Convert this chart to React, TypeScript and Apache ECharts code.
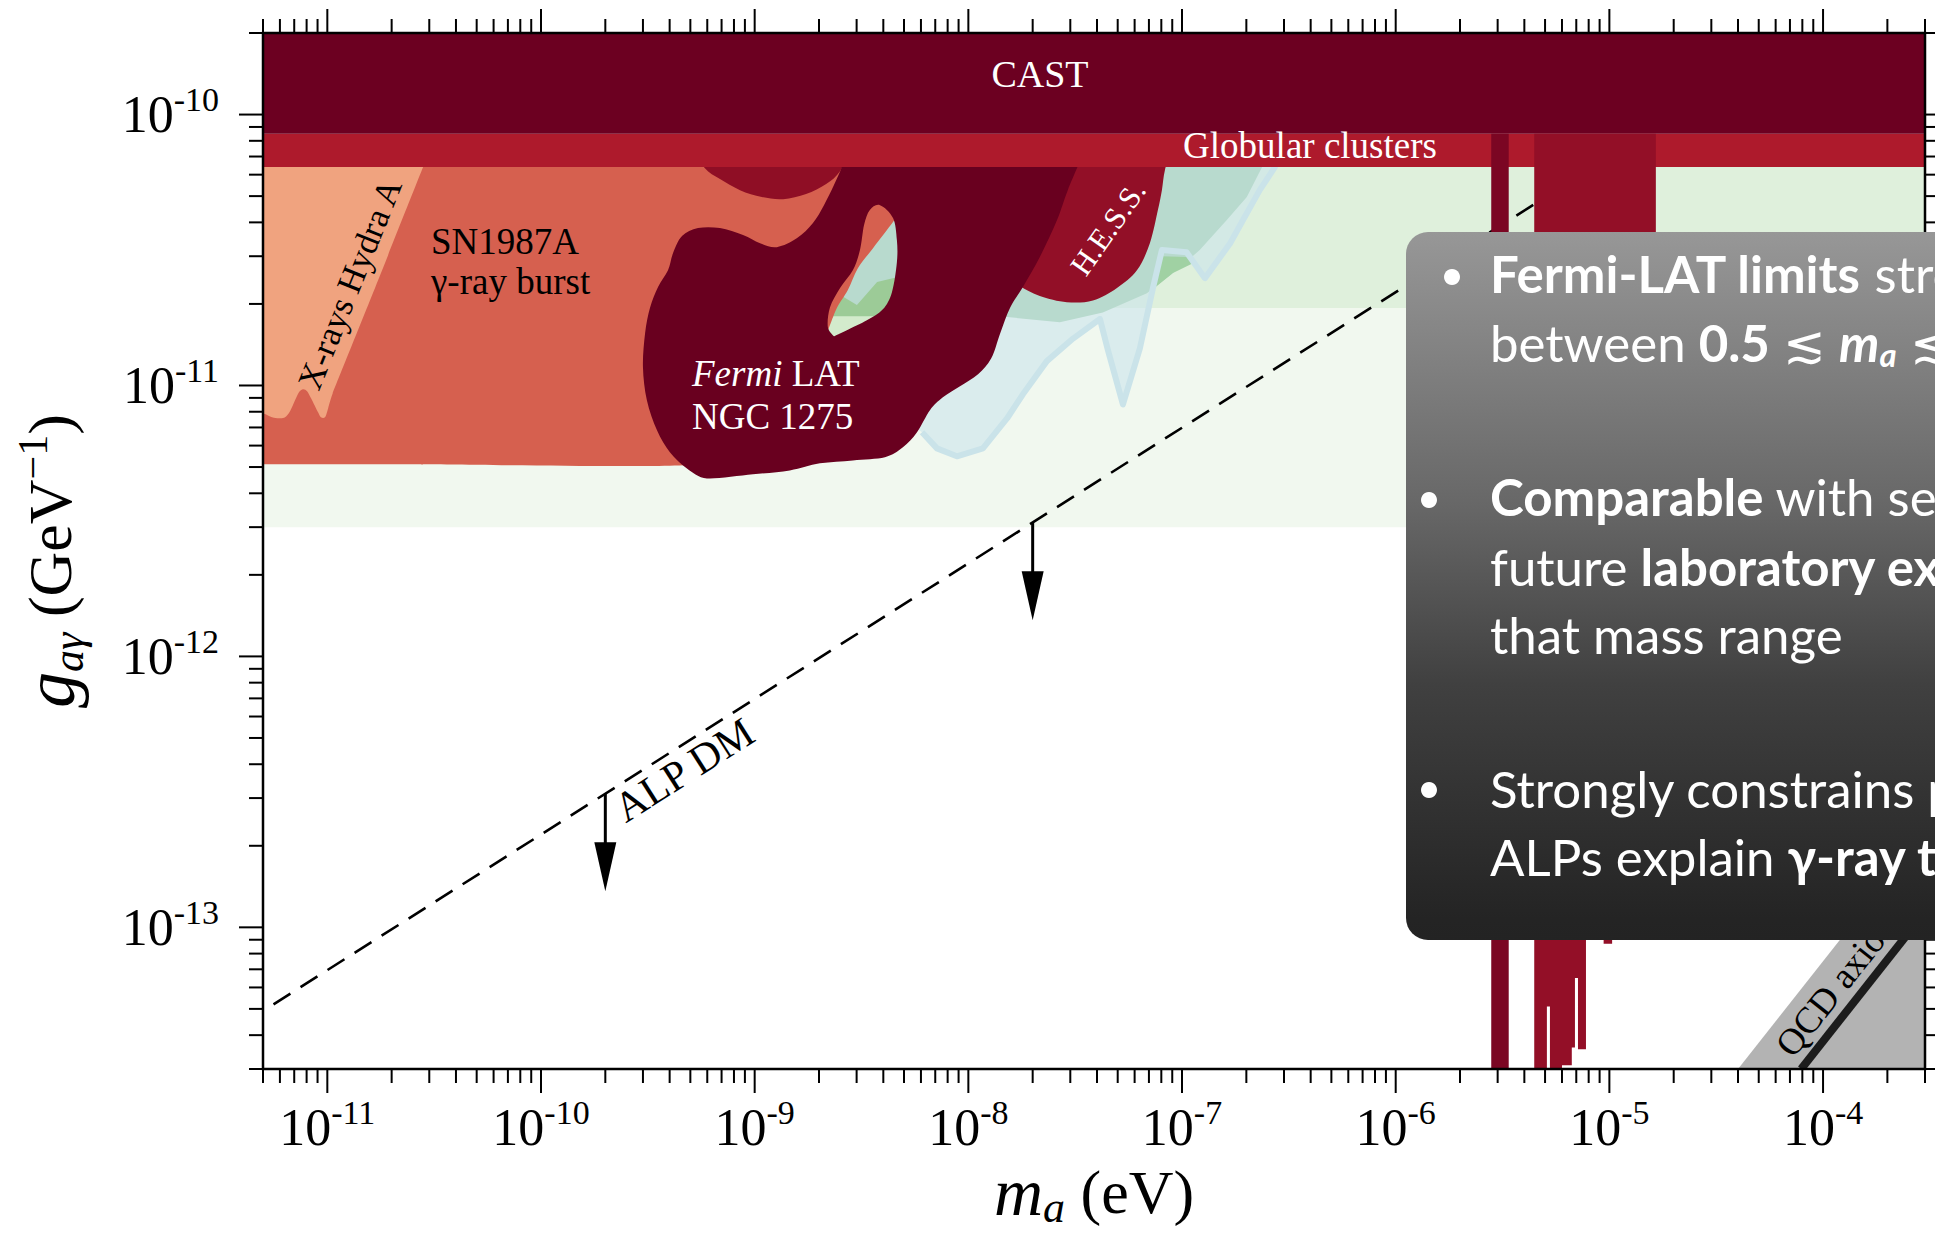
import React, { useEffect, useRef } from 'react';
import * as echarts from 'echarts';

const CANVAS_W = 1935;
const CANVAS_H = 1234;
const SERIF = '"Liberation Serif", "Times New Roman", Times, serif';
const SANS = 'Lato, "Open Sans", "Noto Sans", sans-serif';

// axis ranges (m_a in eV, g in GeV^-1)
const X_MIN = 5e-12;
const X_MAX = 3e-4;
const Y_MIN = 3e-14;
const Y_MAX = 2e-10;
const xLabelExponents = [-11, -10, -9, -8, -7, -6, -5, -4];
const yLabelExponents = [-13, -12, -11, -10];

// horizontal bands: [mMin, mMax, gMin, gMax]
const castBand = [5e-12, 3e-4, 8.5e-11, 2e-10];
const globularBand = [5e-12, 3e-4, 6.4e-11, 8.5e-11];
const projectionBandLow = [5e-12, 3e-4, 3e-12, 7e-11];
const projectionBandHigh = [5e-12, 3e-4, 1.93e-11, 7e-11];
const holeBackPale = [2.1e-9, 4.8e-9, 1.45e-11, 4.8e-11];
const holeBackGreen = [2.1e-9, 4.8e-9, 1.8e-11, 4.8e-11];

// region outlines: [m, g]
const hydraA = [
  [3.9e-12, 7.4e-11], [3.02e-11, 7.4e-11], [1.73e-11, 2.45e-11], [1.06e-11, 9.36e-12],
  [1.0e-11, 8.03e-12], [9.75e-12, 7.63e-12], [9.34e-12, 7.63e-12], [9.05e-12, 7.96e-12],
  [8.39e-12, 8.97e-12], [8.04e-12, 9.52e-12], [7.7e-12, 9.68e-12], [7.37e-12, 9.44e-12],
  [7.06e-12, 8.82e-12], [6.69e-12, 8.03e-12], [6.34e-12, 7.63e-12], [5.94e-12, 7.57e-12],
  [5.51e-12, 7.63e-12], [4.95e-12, 7.9e-12], [3.9e-12, 7.96e-12],
];
const sn1987a = [
  [3.9e-12, 7.4e-11], [1.89e-10, 7.4e-11], [1.07e-8, 7.4e-11], [5.05e-9, 4.63e-11],
  [4.44e-9, 4.01e-11], [3.58e-9, 3.21e-11], [3.04e-9, 2.71e-11], [2.73e-9, 2.25e-11],
  [2.4e-9, 1.9e-11], [1.92e-9, 1.24e-11], [1.31e-9, 7.44e-12], [5.55e-10, 5.12e-12],
  [2.19e-11, 5.12e-12], [3.9e-12, 5.12e-12],
];
const sn1987aCore = [
  [5.26e-10, 7.4e-11], [5.85e-10, 6.34e-11], [6.88e-10, 5.78e-11], [8.54e-10, 5.26e-11],
  [1.08e-9, 4.96e-11], [1.36e-9, 4.87e-11], [1.74e-9, 5.09e-11], [2.16e-9, 5.54e-11],
  [2.51e-9, 6.18e-11], [2.79e-9, 7.4e-11],
];
const hess = [
  [2.41e-8, 7.4e-11], [8.97e-8, 7.4e-11], [8.32e-8, 6.24e-11], [8.05e-8, 5.26e-11],
  [7.71e-8, 4.44e-11], [7.07e-8, 3.35e-11], [6.15e-8, 2.66e-11], [4.96e-8, 2.29e-11],
  [3.83e-8, 2.06e-11], [2.89e-8, 2.03e-11], [2.16e-8, 2.14e-11], [1.74e-8, 2.33e-11],
  [1.48e-8, 2.55e-11], [1.94e-8, 4.83e-11],
];
const fermiNgc1275 = [
  [2.73e-9, 7.4e-11], [9.14e-9, 7.4e-11], [3.51e-8, 7.4e-11], [2.92e-8, 5.26e-11],
  [2.6e-8, 4.08e-11], [2.16e-8, 2.98e-11], [1.8e-8, 2.31e-11], [1.57e-8, 1.94e-11],
  [1.41e-8, 1.56e-11], [1.28e-8, 1.26e-11], [1.11e-8, 1.1e-11], [9.14e-9, 9.93e-12],
  [7.6e-9, 9.04e-12], [6.61e-9, 8.1e-12], [5.75e-9, 6.72e-12], [4.94e-9, 5.91e-12],
  [4.07e-9, 5.43e-12], [2.88e-9, 5.29e-12], [2.02e-9, 5.16e-12], [1.46e-9, 4.86e-12],
  [9.82e-10, 4.7e-12], [5.98e-10, 4.54e-12], [4.82e-10, 4.94e-12], [4.01e-10, 5.67e-12],
  [3.49e-10, 6.83e-12], [3.13e-10, 8.82e-12], [3.0e-10, 1.17e-11], [3.07e-10, 1.56e-11],
  [3.24e-10, 1.94e-11], [3.53e-10, 2.31e-11], [3.93e-10, 2.66e-11], [4.15e-10, 3.08e-11],
  [4.57e-10, 3.56e-11], [5.43e-10, 3.81e-11], [6.88e-10, 3.81e-11], [8.82e-10, 3.59e-11],
  [1.06e-9, 3.35e-11], [1.27e-9, 3.24e-11], [1.58e-9, 3.5e-11], [1.87e-9, 3.97e-11],
  [2.11e-9, 4.63e-11], [2.35e-9, 5.49e-11], [2.56e-9, 6.4e-11],
];
const fermiHole = [
  [3.86e-9, 4.63e-11], [4.44e-9, 4.15e-11], [4.63e-9, 3.44e-11], [4.63e-9, 2.85e-11],
  [4.39e-9, 2.21e-11], [3.98e-9, 1.91e-11], [3.35e-9, 1.74e-11], [2.7e-9, 1.6e-11],
  [2.35e-9, 1.52e-11], [2.2e-9, 1.64e-11], [2.25e-9, 1.94e-11], [2.51e-9, 2.29e-11],
  [2.88e-9, 2.66e-11], [3.11e-9, 3.16e-11], [3.25e-9, 3.91e-11], [3.46e-9, 4.44e-11],
];
const blueRegion = [
  [1.26e-8, 7.4e-11], [2.93e-7, 7.4e-11], [2.72e-7, 6.4e-11], [2.31e-7, 5.26e-11],
  [1.93e-7, 4.08e-11], [1.68e-7, 3.35e-11], [1.28e-7, 2.49e-11], [1.05e-7, 3.1e-11],
  [8.05e-8, 3.16e-11], [7.31e-8, 2.29e-11], [6.35e-8, 1.37e-11], [5.29e-8, 8.52e-12],
  [4.5e-8, 1.35e-11], [4.13e-8, 1.76e-11], [3.09e-8, 1.49e-11], [2.33e-8, 1.23e-11],
  [1.8e-8, 9.28e-12], [1.52e-8, 7.57e-12], [1.17e-8, 5.86e-12], [8.84e-9, 5.48e-12],
  [7.13e-9, 5.86e-12], [6.07e-9, 6.72e-12], [5.05e-9, 7.44e-12], [4.79e-9, 2.06e-11],
];
const tealRegion = [
  [2.02e-9, 7.4e-11], [2.58e-7, 7.4e-11], [2.37e-7, 6.4e-11], [2.01e-7, 4.96e-11],
  [1.62e-7, 4.08e-11], [1.21e-7, 3.16e-11], [9.07e-8, 2.6e-11], [6.85e-8, 2.19e-11],
  [4.26e-8, 1.86e-11], [2.68e-8, 1.71e-11], [1.52e-8, 1.79e-11], [9.14e-9, 1.98e-11],
  [4.63e-9, 2.51e-11], [3.74e-9, 2.41e-11], [3.01e-9, 1.98e-11], [2.56e-9, 2.14e-11],
  [2.02e-9, 2.25e-11],
];
const greenPocket = [
  [8.05e-8, 3.0e-11], [1.05e-7, 2.98e-11], [1.15e-7, 2.85e-11], [9.07e-8, 2.6e-11],
  [7.23e-8, 2.25e-11], [7.55e-8, 2.66e-11],
];

// haloscope-like vertical exclusions: [mMin, mMax, gBottom] (top at CAST band edge)
const narrowBar = [[2.8e-6, 3.38e-6, 3e-14]];
const wideBars = [
  [4.45e-6, 5.1e-6, 3e-14], [5.1e-6, 5.27e-6, 5.1e-14], [5.27e-6, 6.0e-6, 3e-14],
  [6.0e-6, 6.67e-6, 3.1e-14], [6.67e-6, 6.9e-6, 3.6e-14], [6.9e-6, 7.13e-6, 6.5e-14],
  [7.13e-6, 7.77e-6, 3.55e-14], [7.77e-6, 9.4e-6, 9.5e-14], [9.4e-6, 1.03e-5, 8.7e-14],
  [1.03e-5, 1.65e-5, 9.5e-14],
];
const barTop = 8.5e-11;

// ALP dark matter line and arrows [m, gFrom, gTo]
const alpDmLine = [[5.6e-12, 5.2e-14], [1e-5, 7.0e-11]];
const alpArrows = [[2e-10, 3.11e-13, 1.36e-13], [2e-8, 3.11e-12, 1.36e-12]];

// QCD axion band
const qcdBandEdge = [[4e-5, 3e-14], [3e-4, 2.25e-13]];
const qcdLine = [[7.9e-5, 3e-14], [3e-4, 1.14e-13]];

// ---------- helpers ----------
function signedArea(p: number[][]) {
  let a = 0;
  for (let i = 0; i < p.length; i++) {
    const q = p[(i + 1) % p.length];
    a += p[i][0] * q[1] - q[0] * p[i][1];
  }
  return a / 2;
}

function smoothClosed(p: number[][]): string {
  const n = p.length;
  const t = p.map((pt, i) => {
    const a = p[(i - 1 + n) % n];
    const b = p[(i + 1) % n];
    const d1x = pt[0] - a[0], d1y = pt[1] - a[1];
    const d2x = b[0] - pt[0], d2y = b[1] - pt[1];
    const l1 = Math.hypot(d1x, d1y) || 1e-9;
    const l2 = Math.hypot(d2x, d2y) || 1e-9;
    const cos = (d1x * d2x + d1y * d2y) / (l1 * l2);
    if (cos < 0.26) return [0, 0];
    let tx = (b[0] - a[0]) / 6;
    let ty = (b[1] - a[1]) / 6;
    const tl = Math.hypot(tx, ty);
    const lim = 0.4 * Math.min(l1, l2);
    if (tl > lim && tl > 0) {
      tx *= lim / tl;
      ty *= lim / tl;
    }
    return [tx, ty];
  });
  const f = (v: number) => v.toFixed(2);
  let d = `M${f(p[0][0])},${f(p[0][1])}`;
  for (let i = 0; i < n; i++) {
    const j = (i + 1) % n;
    d += `C${f(p[i][0] + t[i][0])},${f(p[i][1] + t[i][1])},${f(p[j][0] - t[j][0])},${f(p[j][1] - t[j][1])},${f(p[j][0])},${f(p[j][1])}`;
  }
  return d + 'Z';
}

const regionLayers: any[] = [
  { kind: 'rect', data: projectionBandLow, fill: '#f1f8ef' },
  { kind: 'rect', data: projectionBandHigh, fill: '#dff0dc' },
  { kind: 'rect', data: holeBackPale, fill: '#d3ebcc' },
  { kind: 'rect', data: holeBackGreen, fill: '#9ccb97' },
  { kind: 'poly', data: blueRegion, fill: 'rgba(203,229,235,0.6)' },
  { kind: 'poly', data: tealRegion, fill: '#b8dace' },
  { kind: 'poly', data: greenPocket, fill: '#a0d1a3' },
  { kind: 'outline', data: blueRegion.slice(1, 22), stroke: '#cae3e9', lineWidth: 6 },
  { kind: 'smooth', data: sn1987a, fill: '#d6604f' },
  { kind: 'smooth', data: hydraA, fill: '#f0a37f' },
  { kind: 'smooth', data: sn1987aCore, fill: '#8f0e25' },
  { kind: 'smooth', data: hess, fill: '#920f27' },
  { kind: 'smooth', data: fermiNgc1275, hole: fermiHole, fill: '#69001f' },
  { kind: 'rect', data: globularBand, fill: '#ae1a2c' },
  { kind: 'rect', data: castBand, fill: '#6c0021' },
];

const xTicks: { v: number; major: boolean }[] = [];
for (let e = -12; e <= -4; e++) {
  for (let c = 1; c <= 9; c++) {
    const v = c * Math.pow(10, e);
    if (v >= X_MIN * 0.9999 && v <= X_MAX * 1.0001) xTicks.push({ v, major: c === 1 });
  }
}
const yTicks: { v: number; major: boolean }[] = [];
for (let e = -14; e <= -10; e++) {
  for (let c = 1; c <= 9; c++) {
    const v = c * Math.pow(10, e);
    if (v >= Y_MIN * 0.9999 && v <= Y_MAX * 1.0001) yTicks.push({ v, major: c === 1 });
  }
}

function powerLabel(exps: number[]) {
  return (v: number) => {
    const lv = Math.log10(v);
    const e = Math.round(lv);
    if (Math.abs(lv - e) > 1e-6 || exps.indexOf(e) < 0) return '';
    return `{b|10}{s|${e}}`;
  };
}

const tickLabelRich = {
  b: { fontFamily: SERIF, fontSize: 52, lineHeight: 64, color: '#000' },
  s: { fontFamily: SERIF, fontSize: 34, lineHeight: 34, verticalAlign: 'top', color: '#000' },
};

function txt(x: number, y: number, text: string, o: any) {
  return {
    type: 'text',
    x,
    y,
    rotation: ((o.rot || 0) * Math.PI) / 180,
    z: o.z || 4,
    silent: true,
    style: {
      text,
      fontFamily: o.family || SERIF,
      fontSize: o.size,
      fontStyle: o.italic ? 'italic' : 'normal',
      fontWeight: o.weight || 'normal',
      fill: o.fill || '#000',
      align: o.align || 'left',
      verticalAlign: 'middle',
      rich: o.rich,
    },
  };
}

const boxRich = {
  r: { fontFamily: SANS, fontSize: 51, lineHeight: 56, fontWeight: 400, fill: '#fff', color: '#fff' },
  b: { fontFamily: SANS, fontSize: 51, lineHeight: 56, fontWeight: 700, fill: '#fff', color: '#fff' },
  bi: { fontFamily: SANS, fontSize: 51, lineHeight: 56, fontWeight: 700, fontStyle: 'italic', fill: '#fff', color: '#fff' },
  sub: { fontFamily: SANS, fontSize: 33, lineHeight: 30, fontWeight: 700, fontStyle: 'italic', verticalAlign: 'bottom', fill: '#fff', color: '#fff' },
};

const BOX_X = 1406;
const TXT_X = 1490;
const boxLines = [
  { y: 273, t: '{b|Fermi-LAT limits}{r| strongest}' },
  { y: 342, t: '{r|between }{b|0.5}{r| \u2272 }{bi|m}{sub|a}{r| \u2272 }{b|5 neV}' },
  { y: 496, t: '{b|Comparable}{r| with sensitivity of}' },
  { y: 566, t: '{r|future }{b|laboratory experiments}{r| in}' },
  { y: 634, t: '{r|that mass range}' },
  { y: 788, t: '{r|Strongly constrains possibility that}' },
  { y: 856, t: '{r|ALPs explain }{b|\u03b3-ray transparency}' },
];
const bullets = [[1452, 277], [1429, 500], [1429, 790]];

function buildOption() {
  const graphics: any[] = [
    txt(1040, 74, 'CAST', { size: 38, fill: '#ffffff', align: 'center' }),
    txt(1310, 145, 'Globular clusters', { size: 37, fill: '#ffffff', align: 'center' }),
    txt(431, 241, 'SN1987A', { size: 37, fill: '#000' }),
    txt(431, 281, '\u03b3-ray burst', { size: 37, fill: '#000' }),
    txt(350, 284, 'X-rays Hydra A', { size: 35, fill: '#000', align: 'center', rot: 68 }),
    txt(692, 373, '{i|Fermi}{n| LAT}', {
      size: 37,
      fill: '#ffffff',
      rich: {
        i: { fontFamily: SERIF, fontSize: 37, fontStyle: 'italic', fill: '#fff', color: '#fff' },
        n: { fontFamily: SERIF, fontSize: 37, fill: '#fff', color: '#fff' },
      },
    }),
    txt(692, 416, 'NGC 1275', { size: 37, fill: '#ffffff' }),
    txt(1108, 228, 'H.E.S.S.', { size: 31, fill: '#ffffff', align: 'center', rot: 55 }),
    txt(684, 770, 'ALP DM', { size: 42, fill: '#000', align: 'center', rot: 32.4 }),
    txt(1836, 985, 'QCD axion', { size: 37, fill: '#000', align: 'center', rot: 51.5 }),
    {
      type: 'rect',
      z: 50,
      silent: true,
      shape: { x: BOX_X, y: 232, width: 640, height: 708, r: 22 },
      style: {
        fill: new echarts.graphic.LinearGradient(0, 0, 0, 1, [
          { offset: 0, color: '#979797' },
          { offset: 0.38, color: '#686868' },
          { offset: 0.64, color: '#404040' },
          { offset: 0.97, color: '#242424' },
          { offset: 1, color: '#232323' },
        ]),
      },
    },
  ];
  bullets.forEach(([cx, cy]) =>
    graphics.push({ type: 'circle', z: 51, silent: true, shape: { cx, cy, r: 8 }, style: { fill: '#ffffff' } })
  );
  boxLines.forEach((l) =>
    graphics.push(txt(TXT_X, l.y, l.t, { size: 51, family: SANS, fill: '#ffffff', z: 51, rich: boxRich }))
  );

  return {
    animation: false,
    backgroundColor: '#ffffff',
    grid: { left: 263, top: 33, width: 1662, height: 1036, containLabel: false, outerBoundsMode: 'none' },
    xAxis: {
      type: 'log',
      logBase: 10,
      min: X_MIN,
      max: X_MAX,
      axisLine: { show: false },
      axisTick: { show: false },
      minorTick: { show: false },
      splitLine: { show: false },
      axisLabel: { margin: 26, formatter: powerLabel(xLabelExponents), rich: tickLabelRich },
      name: '{m|m}{s|a}{r| (eV)}',
      nameLocation: 'middle',
      nameGap: 92,
      nameTextStyle: {
        rich: {
          m: { fontFamily: SERIF, fontSize: 68, fontStyle: 'italic', lineHeight: 60, color: '#000' },
          s: { fontFamily: SERIF, fontSize: 44, fontStyle: 'italic', lineHeight: 20, verticalAlign: 'top', padding: [24, 0, 0, 0], color: '#000' },
          r: { fontFamily: SERIF, fontSize: 62, lineHeight: 60, color: '#000' },
        },
      },
    },
    yAxis: {
      type: 'log',
      logBase: 10,
      min: Y_MIN,
      max: Y_MAX,
      axisLine: { show: false },
      axisTick: { show: false },
      minorTick: { show: false },
      splitLine: { show: false },
      axisLabel: { margin: 44, formatter: powerLabel(yLabelExponents), rich: tickLabelRich },
      name: '{g|g}{sub|a\u03b3}{r| (GeV}{sup|\u22121}{r|)}',
      nameLocation: 'middle',
      nameGap: 175,
      nameTextStyle: {
        padding: [0, 20, 0, 0],
        rich: {
          g: { fontFamily: SERIF, fontSize: 72, fontStyle: 'italic', lineHeight: 76, color: '#000' },
          sub: { fontFamily: SERIF, fontSize: 44, fontStyle: 'italic', lineHeight: 20, verticalAlign: 'top', padding: [34, 0, 0, 0], color: '#000' },
          r: { fontFamily: SERIF, fontSize: 62, lineHeight: 76, color: '#000' },
          sup: { fontFamily: SERIF, fontSize: 42, lineHeight: 24, verticalAlign: 'top', color: '#000' },
        },
      },
    },
    graphic: { elements: graphics },
    series: [
      {
        type: 'custom',
        name: 'regions',
        z: 1,
        clip: true,
        silent: true,
        data: [[1e-8, 1e-12]],
        renderItem: (params: any, api: any) => {
          const px = (pts: number[][]) => pts.map((p) => api.coord(p));
          const children = regionLayers.map((L) => {
            if (L.kind === 'rect') {
              const [m1, m2, g1, g2] = L.data;
              const a = api.coord([m1, g2]);
              const b = api.coord([m2, g1]);
              return { type: 'rect', shape: { x: a[0], y: a[1], width: b[0] - a[0], height: b[1] - a[1] }, style: { fill: L.fill } };
            }
            if (L.kind === 'poly') {
              return { type: 'polygon', shape: { points: px(L.data) }, style: { fill: L.fill } };
            }
            if (L.kind === 'outline') {
              return {
                type: 'polyline',
                shape: { points: px(L.data) },
                style: { stroke: L.stroke, lineWidth: L.lineWidth, fill: 'none', lineJoin: 'round' },
              };
            }
            const outer = px(L.data);
            let d = smoothClosed(outer);
            if (L.hole) {
              let h = px(L.hole);
              if (Math.sign(signedArea(h)) === Math.sign(signedArea(outer))) h = h.slice().reverse();
              d += smoothClosed(h);
            }
            return { type: 'path', shape: { pathData: d }, style: { fill: L.fill } };
          });
          return { type: 'group', children };
        },
      },
      {
        type: 'line',
        name: 'ALP DM',
        z: 2,
        data: alpDmLine,
        symbol: 'none',
        silent: true,
        lineStyle: { color: '#000000', width: 2.6, type: [20, 12] },
      },
      {
        type: 'custom',
        name: 'ALP DM arrows',
        z: 2,
        silent: true,
        data: alpArrows,
        encode: { x: 0, y: [1, 2] },
        renderItem: (params: any, api: any) => {
          const m = api.value(0);
          const top = api.coord([m, api.value(1)]);
          const tip = api.coord([m, api.value(2)]);
          const headLen = 49;
          const headW = 11;
          return {
            type: 'group',
            children: [
              { type: 'line', shape: { x1: top[0], y1: top[1], x2: tip[0], y2: tip[1] - headLen + 6 }, style: { stroke: '#000', lineWidth: 3 } },
              {
                type: 'polygon',
                shape: { points: [[tip[0], tip[1]], [tip[0] - headW, tip[1] - headLen], [tip[0] + headW, tip[1] - headLen]] },
                style: { fill: '#000' },
              },
            ],
          };
        },
      },
      {
        type: 'custom',
        name: 'haloscopes',
        z: 3,
        clip: true,
        silent: true,
        data: [[1e-5, 1e-12]],
        renderItem: (params: any, api: any) => {
          const step = (bars: number[][]) => {
            const pts: number[][] = [];
            pts.push(api.coord([bars[0][0], barTop]));
            pts.push(api.coord([bars[bars.length - 1][1], barTop]));
            for (let i = bars.length - 1; i >= 0; i--) {
              pts.push(api.coord([bars[i][1], bars[i][2]]));
              pts.push(api.coord([bars[i][0], bars[i][2]]));
            }
            return pts;
          };
          return {
            type: 'group',
            children: [
              { type: 'polygon', shape: { points: step(narrowBar) }, style: { fill: '#7b0623' } },
              { type: 'polygon', shape: { points: step(wideBars) }, style: { fill: '#930f27' } },
            ],
          };
        },
      },
      {
        type: 'custom',
        name: 'QCD axion',
        z: 3,
        clip: true,
        silent: true,
        data: [[1e-4, 1e-13]],
        renderItem: (params: any, api: any) => {
          const e0 = api.coord(qcdBandEdge[0]);
          const e1 = api.coord(qcdBandEdge[1]);
          const corner = api.coord([qcdBandEdge[1][0], qcdBandEdge[0][1]]);
          const l0 = api.coord(qcdLine[0]);
          const l1 = api.coord(qcdLine[1]);
          return {
            type: 'group',
            children: [
              { type: 'polygon', shape: { points: [e0, e1, corner] }, style: { fill: '#b3b3b3' } },
              { type: 'line', shape: { x1: l0[0], y1: l0[1], x2: l1[0], y2: l1[1] }, style: { stroke: '#1c1c1c', lineWidth: 8 } },
            ],
          };
        },
      },
      {
        type: 'custom',
        name: 'frame',
        z: 5,
        silent: true,
        data: [[1e-8, 1e-12]],
        renderItem: (params: any, api: any) => {
          const cs = params.coordSys;
          const left = cs.x, top = cs.y, right = cs.x + cs.width, bottom = cs.y + cs.height;
          const children: any[] = [];
          const ln = (x1: number, y1: number, x2: number, y2: number) =>
            children.push({ type: 'line', shape: { x1, y1, x2, y2 }, style: { stroke: '#000', lineWidth: 2 } });
          xTicks.forEach((t) => {
            const x = api.coord([t.v, Y_MIN])[0];
            const len = t.major ? 24 : 14;
            ln(x, bottom, x, bottom + len);
            ln(x, top, x, top - len);
          });
          yTicks.forEach((t) => {
            const y = api.coord([X_MIN, t.v])[1];
            const len = t.major ? 24 : 14;
            ln(left - len, y, left, y);
            ln(right, y, right + len, y);
          });
          children.push({
            type: 'rect',
            shape: { x: left, y: top, width: right - left, height: bottom - top },
            style: { fill: 'none', stroke: '#000', lineWidth: 2.5 },
          });
          return { type: 'group', children };
        },
      },
    ],
  };
}

export default function App() {
  const ref = useRef<HTMLDivElement>(null);
  useEffect(() => {
    document.body.style.margin = '0';
    const chart = echarts.init(ref.current as HTMLDivElement, null, { renderer: 'svg', width: CANVAS_W, height: CANVAS_H });
    chart.setOption(buildOption() as any);
    return () => chart.dispose();
  }, []);
  return <div ref={ref} style={{ width: CANVAS_W, height: CANVAS_H, background: '#ffffff', overflow: 'hidden' }} />;
}
